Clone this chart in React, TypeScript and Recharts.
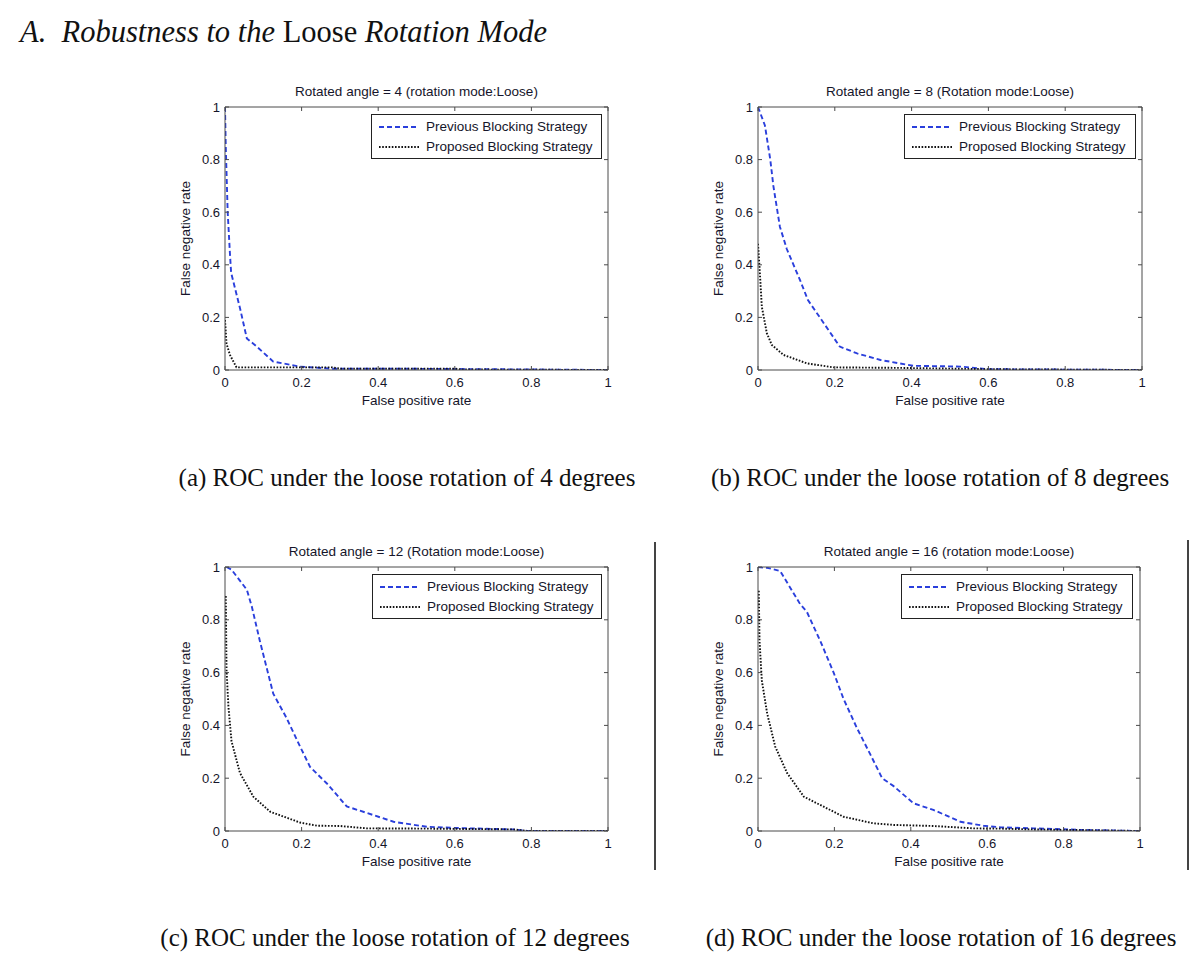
import React from 'react';
import { LineChart, Line, XAxis, YAxis, Legend } from 'recharts';

type Pt = { fpr: number; fnr: number };

const TICKS = [0, 0.2, 0.4, 0.6, 0.8, 1];
const TICK_LABELS = ['0', '0.2', '0.4', '0.6', '0.8', '1'];

const SERIES_NAMES = ['Previous Blocking Strategy', 'Proposed Blocking Strategy'];
const X_LABEL = 'False positive rate';
const Y_LABEL = 'False negative rate';

const TITLES = [
  'Rotated angle = 4 (rotation mode:Loose)',
  'Rotated angle = 8 (Rotation mode:Loose)',
  'Rotated angle = 12 (Rotation mode:Loose)',
  'Rotated angle = 16 (rotation mode:Loose)',
];

const CAPTIONS = [
  '(a) ROC under the loose rotation of 4 degrees',
  '(b) ROC under the loose rotation of 8 degrees',
  '(c) ROC under the loose rotation of 12 degrees',
  '(d) ROC under the loose rotation of 16 degrees',
];

const prevA: Pt[] = [
  { fpr: 0, fnr: 1 }, { fpr: 0.002, fnr: 0.85 }, { fpr: 0.007, fnr: 0.6 }, { fpr: 0.013, fnr: 0.44 },
  { fpr: 0.016, fnr: 0.37 }, { fpr: 0.04, fnr: 0.23 }, { fpr: 0.057, fnr: 0.12 }, { fpr: 0.083, fnr: 0.089 },
  { fpr: 0.126, fnr: 0.032 }, { fpr: 0.196, fnr: 0.013 }, { fpr: 0.28, fnr: 0.005 }, { fpr: 0.44, fnr: 0.005 },
  { fpr: 0.69, fnr: 0.003 }, { fpr: 1, fnr: 0 },
];
const propA: Pt[] = [
  { fpr: 0, fnr: 0.19 }, { fpr: 0.004, fnr: 0.1 }, { fpr: 0.013, fnr: 0.057 }, { fpr: 0.03, fnr: 0.01 },
  { fpr: 0.28, fnr: 0.01 }, { fpr: 0.3, fnr: 0.005 }, { fpr: 0.6, fnr: 0.005 }, { fpr: 0.62, fnr: 0.002 },
  { fpr: 1, fnr: 0 },
];

const prevB: Pt[] = [
  { fpr: 0, fnr: 1 }, { fpr: 0.018, fnr: 0.93 }, { fpr: 0.032, fnr: 0.8 }, { fpr: 0.04, fnr: 0.7 },
  { fpr: 0.057, fnr: 0.545 }, { fpr: 0.075, fnr: 0.46 }, { fpr: 0.11, fnr: 0.34 }, { fpr: 0.13, fnr: 0.266 },
  { fpr: 0.161, fnr: 0.2 }, { fpr: 0.213, fnr: 0.089 }, { fpr: 0.258, fnr: 0.063 }, { fpr: 0.319, fnr: 0.038 },
  { fpr: 0.405, fnr: 0.016 }, { fpr: 0.527, fnr: 0.013 }, { fpr: 0.6, fnr: 0.003 }, { fpr: 1, fnr: 0 },
];
const propB: Pt[] = [
  { fpr: 0, fnr: 0.48 }, { fpr: 0.004, fnr: 0.39 }, { fpr: 0.01, fnr: 0.24 }, { fpr: 0.023, fnr: 0.14 },
  { fpr: 0.036, fnr: 0.095 }, { fpr: 0.067, fnr: 0.057 }, { fpr: 0.128, fnr: 0.025 }, { fpr: 0.197, fnr: 0.01 },
  { fpr: 0.37, fnr: 0.008 }, { fpr: 0.6, fnr: 0.003 }, { fpr: 1, fnr: 0 },
];

const prevC: Pt[] = [
  { fpr: 0.004, fnr: 1 }, { fpr: 0.017, fnr: 0.99 }, { fpr: 0.057, fnr: 0.914 }, { fpr: 0.07, fnr: 0.85 },
  { fpr: 0.091, fnr: 0.72 }, { fpr: 0.126, fnr: 0.52 }, { fpr: 0.16, fnr: 0.43 }, { fpr: 0.196, fnr: 0.32 },
  { fpr: 0.222, fnr: 0.243 }, { fpr: 0.266, fnr: 0.18 }, { fpr: 0.318, fnr: 0.093 }, { fpr: 0.388, fnr: 0.06 },
  { fpr: 0.44, fnr: 0.035 }, { fpr: 0.527, fnr: 0.016 }, { fpr: 0.614, fnr: 0.011 }, { fpr: 0.753, fnr: 0.006 },
  { fpr: 0.79, fnr: 0 }, { fpr: 1, fnr: 0 },
];
const propC: Pt[] = [
  { fpr: 0.002, fnr: 0.89 }, { fpr: 0.004, fnr: 0.61 }, { fpr: 0.009, fnr: 0.47 }, { fpr: 0.017, fnr: 0.34 },
  { fpr: 0.039, fnr: 0.22 }, { fpr: 0.074, fnr: 0.13 }, { fpr: 0.118, fnr: 0.073 }, { fpr: 0.196, fnr: 0.032 },
  { fpr: 0.24, fnr: 0.02 }, { fpr: 0.3, fnr: 0.019 }, { fpr: 0.37, fnr: 0.01 }, { fpr: 0.527, fnr: 0.009 },
  { fpr: 0.753, fnr: 0.006 }, { fpr: 0.79, fnr: 0 }, { fpr: 1, fnr: 0 },
];

const prevD: Pt[] = [
  { fpr: 0, fnr: 1 }, { fpr: 0.024, fnr: 0.997 }, { fpr: 0.058, fnr: 0.985 }, { fpr: 0.11, fnr: 0.86 },
  { fpr: 0.128, fnr: 0.83 }, { fpr: 0.163, fnr: 0.72 }, { fpr: 0.198, fnr: 0.6 }, { fpr: 0.224, fnr: 0.5 },
  { fpr: 0.259, fnr: 0.39 }, { fpr: 0.294, fnr: 0.29 }, { fpr: 0.325, fnr: 0.2 }, { fpr: 0.355, fnr: 0.17 },
  { fpr: 0.407, fnr: 0.105 }, { fpr: 0.459, fnr: 0.08 }, { fpr: 0.53, fnr: 0.035 }, { fpr: 0.59, fnr: 0.02 },
  { fpr: 0.634, fnr: 0.014 }, { fpr: 0.72, fnr: 0.01 }, { fpr: 0.85, fnr: 0.004 }, { fpr: 1, fnr: 0 },
];
const propD: Pt[] = [
  { fpr: 0.002, fnr: 0.91 }, { fpr: 0.004, fnr: 0.72 }, { fpr: 0.01, fnr: 0.57 }, { fpr: 0.024, fnr: 0.445 },
  { fpr: 0.045, fnr: 0.32 }, { fpr: 0.076, fnr: 0.22 }, { fpr: 0.12, fnr: 0.13 }, { fpr: 0.172, fnr: 0.092 },
  { fpr: 0.224, fnr: 0.054 }, { fpr: 0.302, fnr: 0.029 }, { fpr: 0.355, fnr: 0.023 }, { fpr: 0.459, fnr: 0.019 },
  { fpr: 0.564, fnr: 0.01 }, { fpr: 0.634, fnr: 0.009 }, { fpr: 0.72, fnr: 0.006 }, { fpr: 1, fnr: 0 },
];

const AXIS = '#4a4a4a';
const TEXT = '#15152a';
const BLUE = '#2a3fdc';
const BLACK = '#111111';
const SANS = '"Liberation Sans", Arial, sans-serif';
const SERIF = '"Liberation Serif", "Times New Roman", serif';
const DASH_PREV = '5 3';
const DASH_PROP = '1.6 1.6';
const LINE_W = 1.9;

const tickLabel = (v: number) => {
  const i = TICKS.indexOf(v);
  return i >= 0 ? TICK_LABELS[i] : String(v);
};

const BottomTick = (p: any) => (
  <g>
    <line x1={p.x} y1={p.y} x2={p.x} y2={p.y - 4} stroke={AXIS} strokeWidth={1} />
    <text x={p.x} y={p.y + 17} textAnchor="middle" fontSize={13} fill={TEXT} fontFamily={SANS}>
      {tickLabel(p.payload.value)}
    </text>
  </g>
);
const LeftTick = (p: any) => (
  <g>
    <line x1={p.x} y1={p.y} x2={p.x + 4} y2={p.y} stroke={AXIS} strokeWidth={1} />
    <text x={p.x - 5} y={p.y + 4.5} textAnchor="end" fontSize={13} fill={TEXT} fontFamily={SANS}>
      {tickLabel(p.payload.value)}
    </text>
  </g>
);
const TopTick = (p: any) => (
  <line x1={p.x} y1={p.y} x2={p.x} y2={p.y + 4} stroke={AXIS} strokeWidth={1} />
);
const RightTick = (p: any) => (
  <line x1={p.x} y1={p.y} x2={p.x - 4} y2={p.y} stroke={AXIS} strokeWidth={1} />
);

const LegendBox = () => (
  <div
    style={{
      boxSizing: 'border-box',
      border: '1px solid #222',
      background: '#fff',
      height: 45,
      padding: '2px 0 0 7px',
      fontFamily: SANS,
      fontSize: 13.5,
      color: TEXT,
      lineHeight: '20px',
      whiteSpace: 'nowrap',
    }}
  >
    {SERIES_NAMES.map((name, i) => (
      <div key={name} style={{ display: 'flex', alignItems: 'center', height: 20 }}>
        <svg width={40} height={6} style={{ marginRight: 7 }}>
          <line
            x1={0}
            y1={3}
            x2={40}
            y2={3}
            stroke={i === 0 ? BLUE : BLACK}
            strokeWidth={LINE_W}
            strokeDasharray={i === 0 ? DASH_PREV : DASH_PROP}
          />
        </svg>
        <span>{name}</span>
      </div>
    ))}
  </div>
);

type PanelProps = {
  title: string;
  prev: Pt[];
  prop: Pt[];
  plot: [number, number, number, number]; // left, top, right, bottom in page px
  legend: [number, number, number]; // left, top, right in page px
};

const YAXIS_W = 80;
const XAXIS_H = 60;
const TOP_AX_H = 1;
const RIGHT_AX_W = 1;
const TOP_M = 29;
const LEFT_M = 5;
const RIGHT_M = 14;

const Panel = ({ title, prev, prop, plot, legend }: PanelProps) => {
  const [pl, pt, pr, pb] = plot;
  const chartLeft = pl - YAXIS_W - LEFT_M;
  const chartTop = pt - TOP_M - TOP_AX_H;
  const width = YAXIS_W + LEFT_M + (pr - pl) + RIGHT_AX_W + RIGHT_M;
  const height = TOP_M + TOP_AX_H + (pb - pt) + XAXIS_H;
  return (
    <div style={{ position: 'absolute', left: chartLeft, top: chartTop, width, height }}>
      <LineChart
        width={width}
        height={height}
        margin={{ top: TOP_M, right: RIGHT_M, bottom: 0, left: LEFT_M }}
        style={{ fontFamily: SANS }}
      >
        <XAxis
          xAxisId="bottom"
          type="number"
          dataKey="fpr"
          domain={[0, 1]}
          ticks={TICKS}
          allowDataOverflow
          height={XAXIS_H}
          axisLine={{ stroke: AXIS, strokeWidth: 1 }}
          tickLine={false}
          tickSize={0}
          tickMargin={0}
          tick={BottomTick}
          label={{ value: X_LABEL, position: 'center', fontSize: 13.5, fill: TEXT }}
        />
        <XAxis
          xAxisId="top"
          orientation="top"
          type="number"
          dataKey="fpr"
          domain={[0, 1]}
          ticks={TICKS}
          allowDataOverflow
          height={TOP_AX_H}
          axisLine={{ stroke: AXIS, strokeWidth: 1 }}
          tickLine={false}
          tickSize={0}
          tickMargin={0}
          tick={TopTick}
          label={{ value: title, position: 'top', offset: 10, fontSize: 13.5, fill: TEXT }}
        />
        <YAxis
          yAxisId="left"
          type="number"
          domain={[0, 1]}
          ticks={TICKS}
          allowDataOverflow
          width={YAXIS_W}
          axisLine={{ stroke: AXIS, strokeWidth: 1 }}
          tickLine={false}
          tickSize={0}
          tickMargin={0}
          tick={LeftTick}
          label={{ value: Y_LABEL, angle: -90, position: 'center', fontSize: 13.5, fill: TEXT }}
        />
        <YAxis
          yAxisId="right"
          orientation="right"
          type="number"
          domain={[0, 1]}
          ticks={TICKS}
          allowDataOverflow
          width={RIGHT_AX_W}
          axisLine={{ stroke: AXIS, strokeWidth: 1 }}
          tickLine={false}
          tickSize={0}
          tickMargin={0}
          tick={RightTick}
        />
        <Line
          xAxisId="bottom"
          yAxisId="left"
          data={prev}
          dataKey="fnr"
          name={SERIES_NAMES[0]}
          type="linear"
          stroke={BLUE}
          strokeWidth={LINE_W}
          strokeDasharray={DASH_PREV}
          dot={false}
          activeDot={false}
          isAnimationActive={false}
        />
        <Line
          xAxisId="top"
          yAxisId="right"
          data={prop}
          dataKey="fnr"
          name={SERIES_NAMES[1]}
          type="linear"
          stroke={BLACK}
          strokeWidth={LINE_W}
          strokeDasharray={DASH_PROP}
          dot={false}
          activeDot={false}
          isAnimationActive={false}
        />
        <Legend
          layout="vertical"
          align="center"
          verticalAlign="middle"
          content={() => <LegendBox />}
          wrapperStyle={{
            position: 'absolute',
            left: legend[0] - chartLeft,
            top: legend[1] - chartTop,
            width: legend[2] - legend[0],
            margin: 0,
          }}
        />
      </LineChart>
    </div>
  );
};

const captionStyle = (left: number, top: number): React.CSSProperties => ({
  position: 'absolute',
  left,
  top,
  width: 0,
  display: 'flex',
  justifyContent: 'center',
  whiteSpace: 'nowrap',
  fontFamily: SERIF,
  fontSize: 25,
  lineHeight: '30px',
  color: '#111',
});

export default function App() {
  return (
    <div
      style={{
        position: 'absolute',
        left: 0,
        top: 0,
        width: 1200,
        height: 964,
        background: '#fff',
        overflow: 'hidden',
      }}
    >
      <div
        style={{
          position: 'absolute',
          left: 20,
          top: 14,
          fontFamily: SERIF,
          fontSize: 30.5,
          lineHeight: '36px',
          color: '#111',
          whiteSpace: 'nowrap',
        }}
      >
        <i>A.&nbsp; Robustness to the</i> Loose <i>Rotation Mode</i>
      </div>

      <Panel title={TITLES[0]} prev={prevA} prop={propA} plot={[225, 107, 608, 370]} legend={[371, 114, 602]} />
      <Panel title={TITLES[1]} prev={prevB} prop={propB} plot={[758, 107, 1142, 370]} legend={[904, 114, 1136]} />
      <Panel title={TITLES[2]} prev={prevC} prop={propC} plot={[225, 567, 608, 831]} legend={[372, 574, 602]} />
      <Panel title={TITLES[3]} prev={prevD} prop={propD} plot={[758, 567, 1140, 831]} legend={[901, 574, 1133]} />

      <div style={captionStyle(407, 463)}>{CAPTIONS[0]}</div>
      <div style={captionStyle(940, 463)}>{CAPTIONS[1]}</div>
      <div style={captionStyle(395, 923)}>{CAPTIONS[2]}</div>
      <div style={captionStyle(941, 923)}>{CAPTIONS[3]}</div>

      <div style={{ position: 'absolute', left: 654, top: 542, width: 1.5, height: 328, background: '#444' }} />
      <div style={{ position: 'absolute', left: 1187, top: 540, width: 1.5, height: 330, background: '#444' }} />
    </div>
  );
}
